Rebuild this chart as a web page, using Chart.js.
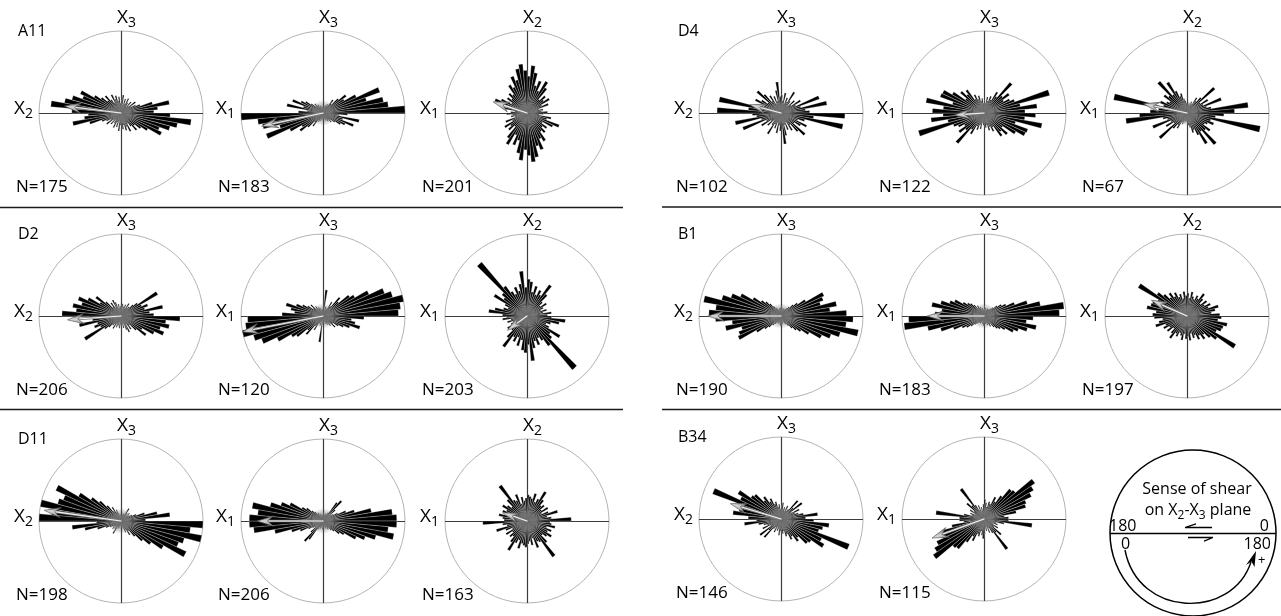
<!DOCTYPE html>
<html>
<head>
<meta charset="utf-8">
<script src="https://cdn.jsdelivr.net/npm/chart.js@4.4.0/dist/chart.umd.min.js"></script>
<style>
  html, body { margin: 0; padding: 0; background: #fff; }
  #fig { position: relative; width: 1281px; height: 616px; overflow: hidden; font-family: "Open Sans", sans-serif; }
  #fig canvas { position: absolute; }
  #overlay { position: absolute; left: 0; top: 0; pointer-events: none; }
</style>
</head>
<body>
<div id="fig"></div>
<script>
// Orientation bins: 36 bins of 5°, measured counter-clockwise from the right-hand axis.
// Orientations are axial, so each bin is also drawn at the opposite direction (+180°).
const binStarts = [0,5,10,15,20,25,30,35,40,45,50,55,60,65,70,75,80,85,
                   90,95,100,105,110,115,120,125,130,135,140,145,150,155,160,165,170,175];

// Bar lengths, in percent of the outer circle radius
const A11_1 = [40,45,60,40,25,20,15,22,12,18, 10,15,20,12,18,10,22,15,12,20, 15,22,18,25,15,20,28,22,30,38, 55,50,62,70,86,60];
const A11_2 = [100,80,75,55,74,45,30,35,25,15, 20,10,12,8,10,6,8,6,5,8, 6,8,10,8,12,10,15,12,18,25, 30,40,25,45,20,30];
const A11_3 = [25,18,20,15,28,20,32,25,30,22, 38,45,30,42,35,50,58,45,52,60, 55,42,48,35,40,28,32,25,30,22, 35,42,25,30,15,20];
const D2_1  = [40,35,52,30,35,28,52,25,20,15, 12,18,10,15,12,8,15,10,12,8, 15,10,18,22,12,20,15,25,38,30, 45,56,50,60,55,72];
const D2_2  = [92,95,100,88,80,62,45,40,25,30, 15,20,10,8,12,6,32,5,8,8, 6,10,8,12,10,15,12,20,15,22, 28,35,47,40,35,50];
const D2_3  = [25,30,20,25,18,22,28,20,25,35, 47,30,35,28,38,30,42,45,35,55, 40,32,38,30,35,45,86,40,35,47, 30,25,30,40,47,30];
const D11_1 = [30,60,45,30,20,15,12,10,14,8, 12,18,8,10,6,8,5,6,5,8, 6,10,15,12,20,15,25,35,45,60, 88,75,80,100,85,100];
const D11_2 = [90,85,60,40,30,20,15,12,20,33, 28,12,8,10,6,8,5,10,6,8, 5,8,10,8,12,10,15,18,25,30, 45,55,67,88,80,90];
const D11_3 = [54,30,25,39,28,20,30,22,28,25, 32,42,30,25,35,28,30,32,28,25, 30,22,35,28,30,54,35,25,30,35, 28,32,25,35,30,28];
const D4_1  = [35,30,57,25,50,20,28,15,22,12, 18,30,15,20,12,25,15,22,20,38, 28,15,22,12,25,18,30,39,20,28, 35,22,30,77,40,78];
const D4_2  = [50,65,45,83,40,35,28,38,30,49, 25,30,18,22,15,20,12,15,12,18, 15,22,18,25,20,35,30,38,28,45, 56,57,40,72,50,63];
const D4_3  = [58,75,30,25,45,22,30,20,45,25, 18,22,12,15,10,12,8,10,12,15, 18,25,22,30,44,28,51,30,35,25, 28,35,30,91,35,45];
const B1_1  = [80,60,69,50,55,58,35,25,20,15, 12,10,8,10,6,8,10,12,10,8, 10,6,8,10,12,15,20,25,30,40, 55,65,75,96,80,88];
const B1_2  = [92,98,70,55,40,30,25,20,15,12, 10,8,10,8,6,10,8,12,8,6, 10,8,12,10,15,12,18,22,25,30, 40,45,55,65,52,60];
const B1_3  = [40,30,35,40,28,32,25,30,22,28, 34,25,28,22,25,30,22,28,25,30, 22,28,25,32,28,35,30,38,45,69, 40,45,46,50,38,42];
const B34_1 = [30,45,28,22,18,25,15,32,20,30, 15,12,18,10,15,12,20,15,12,18, 15,22,20,28,25,34,30,43,45,61, 55,89,48,52,59,40];
const B34_2 = [30,25,40,53,55,64,70,76,50,48, 35,25,30,20,22,15,20,24,18,12, 15,10,18,12,20,46,22,28,15,20, 12,18,15,25,59,30];

// Mean orientation arrows: [angle in degrees ccw from right axis, length in percent of radius]
const arrows = {
  A11: [[173, 69], [192, 76], [161.5, 43]],
  D2:  [[184, 65], [191, 100], [216, 29]],
  D11: [[172, 94], [180, 80], [161, 31]],
  D4:  [[165, 39], [184, 36], [168, 54]],
  B1:  [[180, 89], [180, 69], [156, 47]],
  B34: [[163, 64], [200, 67]]
};

// Sample counts
const counts = {
  A11: [175, 183, 201],
  D2:  [206, 120, 203],
  D11: [198, 206, 163],
  D4:  [102, 122, 67],
  B1:  [190, 183, 197],
  B34: [146, 115]
};

// Axis names per diagram column: [top, left]
const axisNames = [["3", "2"], ["3", "1"], ["2", "1"]];

const samples = [
  { name: "A11", bins: [A11_1, A11_2, A11_3] },
  { name: "D2",  bins: [D2_1, D2_2, D2_3] },
  { name: "D11", bins: [D11_1, D11_2, D11_3] },
  { name: "D4",  bins: [D4_1, D4_2, D4_3] },
  { name: "B1",  bins: [B1_1, B1_2, B1_3] },
  { name: "B34", bins: [B34_1, B34_2] }
];

// ---- layout ----
const R = 82, PAD = 4;
const colX = [[121, 323, 527], [781, 984, 1187]];
const rowY = [[113, 316, 521], [113, 316, 519]];

// Expand the 36 half-circle bins into 72 polar-area segments, ordered clockwise from the top.
const segLabels = [];
for (let j = 0; j < 72; j++) segLabels.push(String(j * 5) + "°");
function expandBins(half) {
  const out = [];
  for (let j = 0; j < 72; j++) {
    const m = (((85 - 5 * j) % 360) + 360) % 360;
    out.push(half[binStarts.indexOf(m % 180)]);
  }
  return out;
}

const crossPlugin = {
  id: "cross",
  beforeDatasetsDraw(chart) {
    const s = chart.scales.r, ctx = chart.ctx, d = s.drawingArea;
    ctx.save();
    ctx.strokeStyle = "#3c3c3c";
    ctx.lineWidth = 1.2;
    ctx.beginPath();
    ctx.moveTo(s.xCenter - d, s.yCenter + 0.5); ctx.lineTo(s.xCenter + d, s.yCenter + 0.5);
    ctx.moveTo(s.xCenter + 0.5, s.yCenter - d); ctx.lineTo(s.xCenter + 0.5, s.yCenter + d);
    ctx.stroke();
    ctx.restore();
  }
};

const arrowPlugin = {
  id: "meanArrow",
  afterDatasetsDraw(chart, args, o) {
    const s = chart.scales.r, ctx = chart.ctx;
    const a = o.angle * Math.PI / 180;
    const d = s.getDistanceFromCenterForValue(o.length);
    const ux = Math.cos(a), uy = -Math.sin(a), px = -uy, py = ux;
    const x0 = s.xCenter, y0 = s.yCenter;
    const tx = x0 + ux * d, ty = y0 + uy * d;
    const hl = 16, hw = 5;
    ctx.save();
    // soft grey hub where the narrow wedges converge
    const hub = ctx.createRadialGradient(x0, y0, 0, x0, y0, 13);
    hub.addColorStop(0, "rgba(70,70,70,0.85)");
    hub.addColorStop(1, "rgba(70,70,70,0)");
    ctx.fillStyle = hub;
    ctx.beginPath(); ctx.arc(x0, y0, 13, 0, Math.PI * 2); ctx.fill();
    ctx.lineCap = "round";
    ctx.beginPath(); ctx.moveTo(x0, y0); ctx.lineTo(tx - ux * hl * 0.6, ty - uy * hl * 0.6);
    ctx.strokeStyle = "#7a7a7a"; ctx.lineWidth = 2.6; ctx.stroke();
    ctx.strokeStyle = "#f4f4f4"; ctx.lineWidth = 1.1; ctx.stroke();
    const bx = tx - ux * hl, by = ty - uy * hl;
    const nx = tx - ux * hl * 0.62, ny = ty - uy * hl * 0.62;
    const g = ctx.createLinearGradient(bx + px * hw, by + py * hw, bx - px * hw, by - py * hw);
    g.addColorStop(0, "#6c6c6c"); g.addColorStop(0.5, "#d8d8d8"); g.addColorStop(1, "#8c8c8c");
    ctx.beginPath();
    ctx.moveTo(tx, ty);
    ctx.lineTo(bx + px * hw, by + py * hw);
    ctx.lineTo(nx, ny);
    ctx.lineTo(bx - px * hw, by - py * hw);
    ctx.closePath();
    ctx.fillStyle = g; ctx.fill();
    ctx.strokeStyle = "#5a5a5a"; ctx.lineWidth = 0.7; ctx.stroke();
    ctx.restore();
  }
};

const fig = document.getElementById("fig");
const svgParts = [];
const txt = (x, y, s, extra) => `<text x="${x}" y="${y}" ${extra || ""}>${s}</text>`;

samples.forEach((smp, si) => {
  const side = si < 3 ? 0 : 1, row = si % 3;
  const cy = rowY[side][row];
  smp.bins.forEach((half, k) => {
    const cx = colX[side][k];
    const cv = document.createElement("canvas");
    const size = 2 * (R + PAD);
    cv.width = size; cv.height = size;
    cv.style.left = (cx - R - PAD) + "px";
    cv.style.top = (cy - R - PAD) + "px";
    fig.appendChild(cv);
    const arr = arrows[smp.name][k];
    new Chart(cv, {
      type: "polarArea",
      data: {
        labels: segLabels,
        datasets: [{ data: expandBins(half), backgroundColor: "#000",
                     borderColor: "rgba(255,255,255,0.75)", borderWidth: 0.35 }]
      },
      options: {
        responsive: false, animation: false, devicePixelRatio: 1,
        layout: { padding: PAD },
        plugins: { legend: { display: false }, tooltip: { enabled: false },
                   meanArrow: { angle: arr[0], length: arr[1] } },
        scales: {
          r: {
            min: 0, max: 100, startAngle: 0,
            ticks: { display: false, stepSize: 100 },
            grid: { color: "#b3b3b3", lineWidth: 1 },
            angleLines: { display: false },
            pointLabels: { display: false }
          }
        }
      },
      plugins: [crossPlugin, arrowPlugin]
    });

    const names = axisNames[k];
    svgParts.push(txt(cx - 4, cy - 90, `X<tspan font-size="14" dy="4">${names[0]}</tspan>`, 'font-size="19"'));
    svgParts.push(txt(cx - R - 6, cy + 1, `X<tspan font-size="14" dy="4">${names[1]}</tspan>`, 'font-size="19" text-anchor="end"'));
    svgParts.push(txt(cx - 105, cy + 79, "N=" + counts[smp.name][k], 'font-size="17"'));
    if (k === 0) svgParts.push(txt(cx - 103, cy - 77, smp.name, 'font-size="16"'));
  });
});

// Row separators
svgParts.push('<g stroke="#1a1a1a" stroke-width="1.6">' +
  '<line x1="0" y1="207.5" x2="623" y2="207.5"/><line x1="0" y1="409.5" x2="623" y2="409.5"/>' +
  '<line x1="662" y1="207" x2="1281" y2="207"/><line x1="662" y1="409.5" x2="1281" y2="409.5"/></g>');

// Shear-sense key
svgParts.push(
  '<g fill="none" stroke="#000" stroke-width="1.5">' +
  '<circle cx="1193" cy="533" r="83"/>' +
  '<line x1="1110" y1="533.5" x2="1276" y2="533.5"/>' +
  '<path d="M1185,527.5 L1212,527.5 M1185,527.5 L1196,523.8" stroke-width="1.3"/>' +
  '<path d="M1188,537.5 L1213,537.5 M1213,537.5 L1204,541.2" stroke-width="1.3"/>' +
  '<path d="M1125,550 C1138,618 1232,620 1251,562" stroke-width="1.4"/>' +
  '</g>' +
  '<path d="M1256,551 L1254.5,567 L1251.5,561.5 L1246,565 Z" fill="#000"/>' +
  txt(1197, 494, "Sense of shear", 'font-size="16" text-anchor="middle"') +
  txt(1198, 515, 'on X<tspan font-size="12" dy="4">2</tspan><tspan dy="-4">-X</tspan><tspan font-size="12" dy="4">3</tspan><tspan dy="-4"> plane</tspan>', 'font-size="16" text-anchor="middle"') +
  txt(1109, 531, "180", 'font-size="16"') +
  txt(1269, 531, "0", 'font-size="16" text-anchor="end"') +
  txt(1121, 549, "0", 'font-size="16"') +
  txt(1271, 549, "180", 'font-size="16" text-anchor="end"') +
  txt(1258, 564, "+", 'font-size="13"')
);

const svg = `<svg id="overlay" width="1281" height="616" xmlns="http://www.w3.org/2000/svg" font-family="Open Sans, sans-serif" fill="#000">${svgParts.join("")}</svg>`;
fig.insertAdjacentHTML("beforeend", svg);
</script>
</body>
</html>
